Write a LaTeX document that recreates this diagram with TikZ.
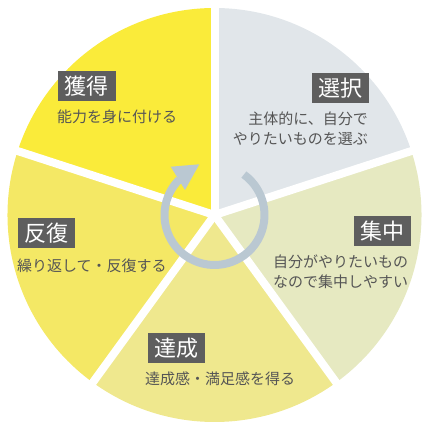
\documentclass[tikz,border=0pt]{standalone}
\usepackage{fontspec}
\setmainfont{Noto Sans CJK JP}
\definecolor{cKakutoku}{HTML}{FAEB3A}
\definecolor{cSentaku}{HTML}{E1E6EA}
\definecolor{cShuchu}{HTML}{E6E9C1}
\definecolor{cTassei}{HTML}{EFE88E}
\definecolor{cHanpuku}{HTML}{F4E865}
\definecolor{cBox}{HTML}{5E5E5E}
\definecolor{cText}{HTML}{555555}
\definecolor{cArrow}{HTML}{BAC8D2}
\begin{document}
\begin{tikzpicture}[x=1pt,y=1pt,
  sector/.style={draw=none},
  gapline/.style={draw=white,line width=8pt},
  titlebox/.style={fill=cBox,text=white,font=\fontsize{22}{22}\selectfont,
    minimum width=57pt,minimum height=30pt,inner sep=0pt},
  subtext/.style={text=cText,font=\fontsize{15}{20}\selectfont,inner sep=0pt}]
\useasboundingbox (-214.5,-215) rectangle (215.5,215);
\def\R{207}
\fill[cKakutoku] (0,0) -- (90:\R) arc[start angle=90,end angle=162,radius=\R] -- cycle;
\fill[cHanpuku] (0,0) -- (162:\R) arc[start angle=162,end angle=234,radius=\R] -- cycle;
\fill[cTassei] (0,0) -- (234:\R) arc[start angle=234,end angle=306,radius=\R] -- cycle;
\fill[cShuchu] (0,0) -- (306:\R) arc[start angle=306,end angle=378,radius=\R] -- cycle;
\fill[cSentaku] (0,0) -- (18:\R) arc[start angle=18,end angle=90,radius=\R] -- cycle;
\coordinate (c) at (0,0);
\foreach \a in {90,162,234,306,18}{
  \draw[gapline] (c) -- (\a:215);
}
% cycle arrow
\draw[cArrow,line width=8pt] (54:50) arc[start angle=54,end angle=-225,radius=50];
\fill[cArrow] (-15.2,50.7) -- (-43.8,48.3) -- (-29.5,25) -- cycle;
% labels
\node[titlebox] (t1) at (126,127) {選択};
\node[subtext,anchor=east,align=right] (s1) at (153.5,86) {主体的に、自分で\\やりたいものを選ぶ};
\node[titlebox] (t2) at (-127.5,129) {獲得};
\node[subtext,anchor=west] (s2) at (-157.5,98) {能力を身に付ける};
\node[titlebox] (t3) at (-167.5,-18.5) {反復};
\node[subtext,anchor=west] (s3) at (-197.5,-51) {繰り返して・反復する};
\node[titlebox] (t4) at (168,-16.5) {集中};
\node[subtext,anchor=west,align=left] (s4) at (58.5,-57) {自分がやりたいもの\\なので集中しやすい};
\node[titlebox] (t5) at (-38,-133) {達成};
\node[subtext,anchor=west] (s5) at (-69.5,-164) {達成感・満足感を得る};
\end{tikzpicture}
\end{document}
